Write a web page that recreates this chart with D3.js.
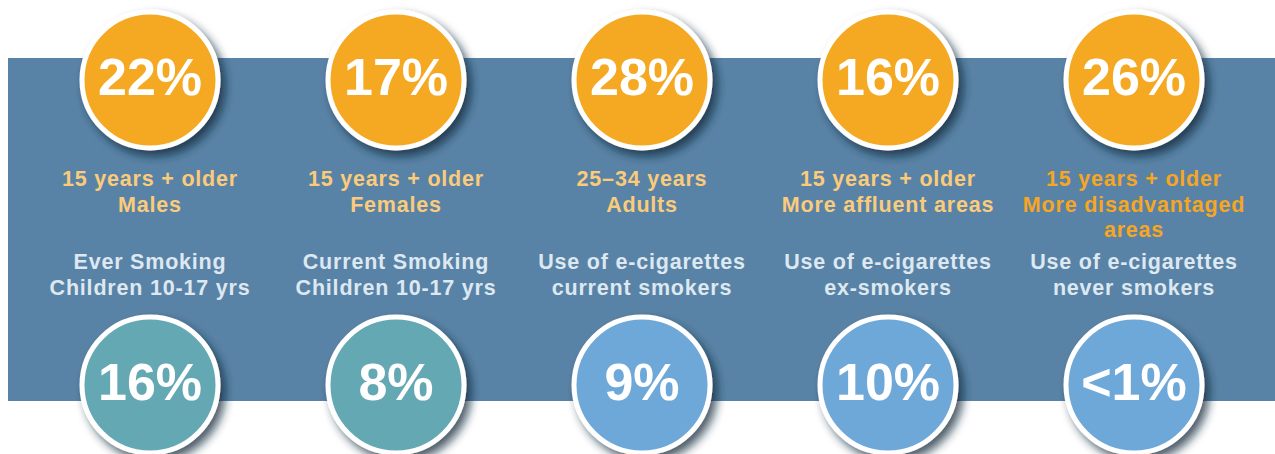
<!DOCTYPE html>
<html>
<head>
<meta charset="utf-8">
<script src="https://cdn.jsdelivr.net/npm/d3@7"></script>
<style>
  html, body { margin: 0; padding: 0; background: #ffffff; }
  svg { display: block; }
  text { font-family: "Liberation Sans", Arial, Helvetica, sans-serif; font-weight: bold; }
</style>
</head>
<body>
<div id="chart"></div>
<script>
var width = 1275, height = 454;

// data
var topValues = ['22%', '17%', '28%', '16%', '26%'];
var topLabels = [
  ['15 years + older', 'Males'],
  ['15 years + older', 'Females'],
  ['25\u201334 years', 'Adults'],
  ['15 years + older', 'More affluent areas'],
  ['15 years + older', 'More disadvantaged', 'areas']
];
var bottomLabels = [
  ['Ever Smoking', 'Children 10-17 yrs'],
  ['Current Smoking', 'Children 10-17 yrs'],
  ['Use of e-cigarettes', 'current smokers'],
  ['Use of e-cigarettes', 'ex-smokers'],
  ['Use of e-cigarettes', 'never smokers']
];
var bottomValues = ['16%', '8%', '9%', '10%', '<1%'];
var bottomGroup = ['smoking', 'smoking', 'ecig', 'ecig', 'ecig'];

var x = d3.scaleBand()
  .domain(d3.range(topValues.length))
  .range([27, 1257]);

var bottomColor = d3.scaleOrdinal()
  .domain(['smoking', 'ecig'])
  .range(['#64a8b3', '#6ea8d9']);

var svg = d3.select('#chart').append('svg')
  .attr('width', width)
  .attr('height', height);

var defs = svg.append('defs');
var shadow = defs.append('filter')
  .attr('id', 'shadow')
  .attr('x', '-30%').attr('y', '-30%')
  .attr('width', '160%').attr('height', '160%');
shadow.append('feDropShadow')
  .attr('dx', 5).attr('dy', 6)
  .attr('stdDeviation', 5)
  .attr('flood-color', '#14263a')
  .attr('flood-opacity', 0.75);

// blue band behind everything
svg.append('rect')
  .attr('x', 8).attr('y', 58)
  .attr('width', width - 8).attr('height', 343)
  .attr('fill', '#5983a6');

var r = 68;
var topY = 80, bottomY = 385;

function drawBadges(values, cy, fillFn) {
  var g = svg.append('g');
  var badge = g.selectAll('g.badge')
    .data(values)
    .enter().append('g')
    .attr('class', 'badge')
    .attr('transform', function(d, i) { return 'translate(' + (x(i) + x.bandwidth() / 2) + ',' + cy + ')'; });

  badge.append('circle')
    .attr('r', r)
    .attr('fill', fillFn)
    .attr('stroke', '#ffffff')
    .attr('stroke-width', 5)
    .attr('filter', 'url(#shadow)');

  badge.append('text')
    .attr('text-anchor', 'middle')
    .attr('y', 15)
    .attr('fill', '#ffffff')
    .style('font-size', '52px')
    .text(function(d) { return d; });
}

drawBadges(topValues, topY, function() { return '#f5a920'; });
drawBadges(bottomValues, bottomY, function(d, i) { return bottomColor(bottomGroup[i]); });

// labels: orange under the top circles, pale above the bottom ones
function drawLabels(lines, y0, colorFn) {
  var txt = svg.append('g').selectAll('text')
    .data(lines)
    .enter().append('text')
    .attr('text-anchor', 'middle')
    .attr('x', function(d, i) { return x(i) + x.bandwidth() / 2; })
    .attr('y', y0)
    .attr('fill', colorFn)
    .style('font-size', '21.5px')
    .style('letter-spacing', '0.8px');

  txt.selectAll('tspan')
    .data(function(d) { return d; })
    .enter().append('tspan')
    .attr('x', function() { return d3.select(this.parentNode).attr('x'); })
    .attr('dy', function(d, j) { return j === 0 ? 0 : 25.5; })
    .text(function(d) { return d; });
}

drawLabels(topLabels, 186, function(d, i) { return i === 4 ? '#f6a623' : '#fbcb7c'; });
drawLabels(bottomLabels, 269, function() { return '#dde8f1'; });
</script>
</body>
</html>
